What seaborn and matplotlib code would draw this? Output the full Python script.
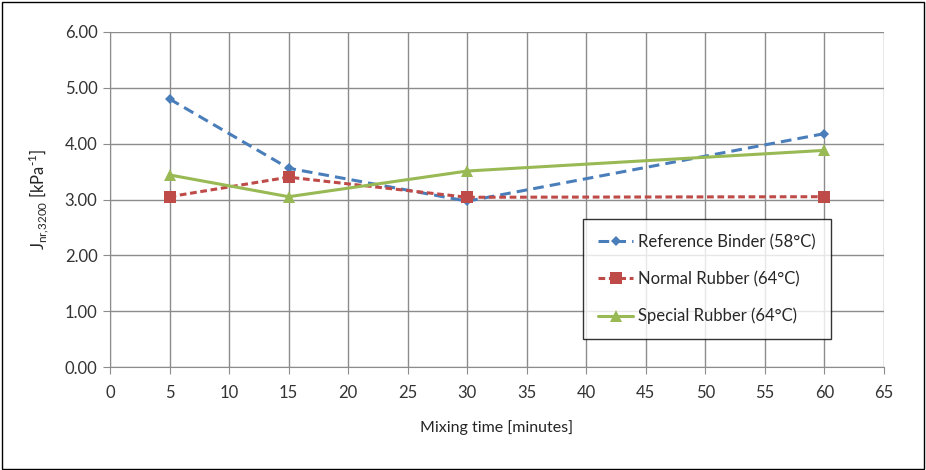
import pandas as pd
import numpy as np
import matplotlib
matplotlib.use("Agg")
import matplotlib.pyplot as plt
import seaborn as sns
from matplotlib.ticker import MultipleLocator, FormatStrFormatter

# data
mixing_time = [5, 15, 30, 60]
reference_binder = [4.80, 3.56, 2.97, 4.18]
normal_rubber = [3.05, 3.40, 3.04, 3.05]
special_rubber = [3.44, 3.05, 3.51, 3.88]
series_names = ["Reference Binder (58°C)", "Normal Rubber (64°C)", "Special Rubber (64°C)"]

df = pd.DataFrame({
    "time": mixing_time * 3,
    "value": reference_binder + normal_rubber + special_rubber,
    "series": np.repeat(series_names, len(mixing_time)),
})

sns.set_style("white")
plt.rcParams['font.family'] = ['Lato', 'DejaVu Sans']

fig = plt.figure(figsize=(9.26, 4.70), dpi=100)
ax = fig.add_axes([110 / 926, 1 - 367 / 470, 774 / 926, 335 / 470])

colors = {series_names[0]: "#4a7ebb", series_names[1]: "#be4b48", series_names[2]: "#98b954"}
markers = {series_names[0]: "D", series_names[1]: "s", series_names[2]: "^"}
dashes = {series_names[0]: (3.5, 2), series_names[1]: (2.2, 1.2), series_names[2]: ""}
sizes = {series_names[0]: 5, series_names[1]: 8, series_names[2]: 8}

for name in series_names:
    sub = df[df["series"] == name]
    sns.lineplot(data=sub, x="time", y="value", ax=ax, color=colors[name],
                 marker=markers[name], markersize=sizes[name], markeredgewidth=0,
                 linewidth=2.2, dashes=False, label=name)
    if dashes[name]:
        ax.lines[-1].set_dashes(dashes[name])

ax.set_xlim(0, 65)
ax.set_ylim(0, 6)
ax.xaxis.set_major_locator(MultipleLocator(5))
ax.yaxis.set_major_locator(MultipleLocator(1))
ax.yaxis.set_major_formatter(FormatStrFormatter("%.2f"))
ax.grid(True, color="#8c8c8c", linewidth=1)
ax.set_axisbelow(True)
for side in ["top", "right"]:
    ax.spines[side].set_visible(False)
for side in ["left", "bottom"]:
    ax.spines[side].set_color("#8c8c8c")
ax.tick_params(axis="both", which="both", length=5, color="#8c8c8c", direction="out",
               labelsize=12, labelcolor="#333333", left=True, bottom=True)
ax.tick_params(axis="y", pad=4)
ax.tick_params(axis="x", pad=8)

ax.set_xlabel("Mixing time [minutes]", fontsize=11.5, labelpad=14)
ax.set_ylabel(r"J$_{\mathregular{nr{,}3200}}$ [kPa$^{\mathregular{\text{-}1}}$]", fontsize=12, labelpad=10)

leg = ax.legend(loc="upper left", bbox_to_anchor=((583 - 110) / 774, (367 - 219) / 335),
                frameon=True, fancybox=False, fontsize=12, handlelength=2.1,
                labelspacing=1.25, borderpad=0.9, handletextpad=0.3, borderaxespad=0)
leg.get_frame().set_edgecolor("#000000")
leg.get_frame().set_linewidth(1)

# outer frame around the whole figure
fig.patches.append(plt.Rectangle((0.002, 0.002), 0.996, 0.994, transform=fig.transFigure,
                                 fill=False, edgecolor="black", linewidth=1))

fig.savefig("out.png", dpi=100)
